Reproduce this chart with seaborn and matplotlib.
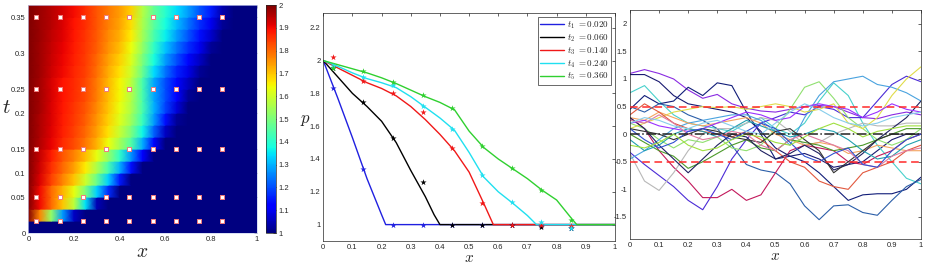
import numpy as np
import pandas as pd
import seaborn as sns
import matplotlib
matplotlib.use('Agg')
from matplotlib import pyplot as plt

# ---------------- data ----------------
# heatmap p(x, t): one row per time step, columns on x_grid
x_grid = [0.0, 0.05, 0.1, 0.15, 0.2, 0.25, 0.3, 0.35, 0.4, 0.45, 0.5,
          0.55, 0.6, 0.65, 0.7, 0.75, 0.8, 0.85, 0.9, 0.95, 1.0]
t_rows = [0.00, 0.02, 0.04, 0.06, 0.08, 0.10, 0.12, 0.14, 0.16, 0.18,
          0.20, 0.22, 0.24, 0.26, 0.28, 0.30, 0.32, 0.34, 0.36]
p_field = [
    [1.0, 1.0, 1.0, 1.0, 1.0, 1.0, 1.0, 1.0, 1.0, 1.0, 1.0, 1.0, 1.0, 1.0, 1.0, 1.0, 1.0, 1.0, 1.0, 1.0, 1.0],
    [2.0, 1.77, 1.53, 1.28, 1.06, 1.0, 1.0, 1.0, 1.0, 1.0, 1.0, 1.0, 1.0, 1.0, 1.0, 1.0, 1.0, 1.0, 1.0, 1.0, 1.0],
    [2.0, 1.9, 1.8, 1.7, 1.58, 1.35, 1.05, 1.0, 1.0, 1.0, 1.0, 1.0, 1.0, 1.0, 1.0, 1.0, 1.0, 1.0, 1.0, 1.0, 1.0],
    [2.0, 1.9, 1.8, 1.72, 1.63, 1.5, 1.33, 1.17, 1.0, 1.0, 1.0, 1.0, 1.0, 1.0, 1.0, 1.0, 1.0, 1.0, 1.0, 1.0, 1.0],
    [2.0, 1.92, 1.84, 1.77, 1.70, 1.60, 1.48, 1.33, 1.15, 1.0, 1.0, 1.0, 1.0, 1.0, 1.0, 1.0, 1.0, 1.0, 1.0, 1.0, 1.0],
    [2.0, 1.93, 1.86, 1.80, 1.74, 1.66, 1.56, 1.44, 1.30, 1.14, 1.0, 1.0, 1.0, 1.0, 1.0, 1.0, 1.0, 1.0, 1.0, 1.0, 1.0],
    [2.0, 1.94, 1.88, 1.82, 1.77, 1.71, 1.63, 1.53, 1.41, 1.27, 1.12, 1.0, 1.0, 1.0, 1.0, 1.0, 1.0, 1.0, 1.0, 1.0, 1.0],
    [2.0, 1.955, 1.91, 1.865, 1.83, 1.785, 1.72, 1.64, 1.55, 1.45, 1.30, 1.13, 1.0, 1.0, 1.0, 1.0, 1.0, 1.0, 1.0, 1.0, 1.0],
    [2.0, 1.96, 1.915, 1.875, 1.84, 1.80, 1.74, 1.67, 1.59, 1.50, 1.37, 1.22, 1.06, 1.0, 1.0, 1.0, 1.0, 1.0, 1.0, 1.0, 1.0],
    [2.0, 1.96, 1.92, 1.88, 1.85, 1.81, 1.75, 1.69, 1.62, 1.54, 1.42, 1.28, 1.14, 1.02, 1.0, 1.0, 1.0, 1.0, 1.0, 1.0, 1.0],
    [2.0, 1.965, 1.92, 1.885, 1.855, 1.82, 1.765, 1.70, 1.635, 1.56, 1.44, 1.30, 1.19, 1.08, 1.0, 1.0, 1.0, 1.0, 1.0, 1.0, 1.0],
    [2.0, 1.965, 1.925, 1.89, 1.86, 1.83, 1.775, 1.71, 1.645, 1.57, 1.44, 1.29, 1.20, 1.11, 1.02, 1.0, 1.0, 1.0, 1.0, 1.0, 1.0],
    [2.0, 1.965, 1.925, 1.89, 1.865, 1.835, 1.78, 1.715, 1.65, 1.575, 1.44, 1.29, 1.20, 1.13, 1.055, 1.0, 1.0, 1.0, 1.0, 1.0, 1.0],
    [2.0, 1.97, 1.93, 1.90, 1.87, 1.84, 1.79, 1.73, 1.67, 1.60, 1.48, 1.34, 1.24, 1.16, 1.09, 1.02, 1.0, 1.0, 1.0, 1.0, 1.0],
    [2.0, 1.97, 1.935, 1.905, 1.875, 1.845, 1.80, 1.74, 1.69, 1.62, 1.50, 1.38, 1.28, 1.20, 1.13, 1.06, 1.0, 1.0, 1.0, 1.0, 1.0],
    [2.0, 1.97, 1.94, 1.91, 1.88, 1.85, 1.81, 1.755, 1.71, 1.64, 1.53, 1.41, 1.32, 1.24, 1.17, 1.10, 1.02, 1.0, 1.0, 1.0, 1.0],
    [2.0, 1.975, 1.945, 1.915, 1.885, 1.855, 1.815, 1.765, 1.725, 1.66, 1.55, 1.44, 1.36, 1.28, 1.21, 1.14, 1.07, 1.0, 1.0, 1.0, 1.0],
    [2.0, 1.975, 1.95, 1.92, 1.89, 1.86, 1.82, 1.775, 1.735, 1.675, 1.56, 1.46, 1.38, 1.31, 1.24, 1.17, 1.10, 1.02, 1.0, 1.0, 1.0],
    [2.0, 1.975, 1.95, 1.925, 1.895, 1.86, 1.82, 1.78, 1.745, 1.69, 1.57, 1.47, 1.40, 1.34, 1.28, 1.21, 1.15, 1.04, 1.0, 1.0, 1.0],
]
t_ticks = [0.0, 0.06, 0.10, 0.14, 0.20, 0.24, 0.30, 0.36]
t_ticklabels = ['0', '0.05', '0.1', '0.15', '0.2', '0.25', '0.3', '0.35']

# observation points
probe_x = [0.035, 0.137, 0.239, 0.341, 0.443, 0.545, 0.646, 0.748, 0.849]
probe_t = [0.02, 0.06, 0.14, 0.24, 0.36]

# profiles p(x) at the probe times
snap_labels = [r'$t_1\ {=}0.020$', r'$t_2\ {=}0.060$', r'$t_3\ {=}0.140$',
               r'$t_4\ {=}0.240$', r'$t_5\ {=}0.360$']
snap_colors = ['#2020e0', '#000000', '#f01818', '#20e0f0', '#30d030']
curve_x1 = [0.0, 0.05, 0.1, 0.15, 0.2, 0.214, 1.0]
curve_p1 = [2.0, 1.77, 1.53, 1.28, 1.06, 1.0, 1.0]
curve_x2 = [0.0, 0.05, 0.1, 0.15, 0.2, 0.25, 0.3, 0.35, 0.38, 0.4, 1.0]
curve_p2 = [2.0, 1.9, 1.8, 1.72, 1.63, 1.5, 1.33, 1.17, 1.06, 1.0, 1.0]
curve_x3 = [0.0, 0.05, 0.1, 0.15, 0.2, 0.25, 0.3, 0.35, 0.4, 0.45, 0.5, 0.55, 0.583, 1.0]
curve_p3 = [2.0, 1.955, 1.91, 1.865, 1.83, 1.785, 1.72, 1.64, 1.55, 1.45, 1.32, 1.13, 1.0, 1.0]
curve_x4 = [0.0, 0.05, 0.1, 0.15, 0.2, 0.25, 0.3, 0.35, 0.4, 0.45, 0.5, 0.55, 0.6, 0.65, 0.7, 0.731, 1.0]
curve_p4 = [2.0, 1.965, 1.925, 1.89, 1.865, 1.835, 1.78, 1.715, 1.65, 1.575, 1.44, 1.29, 1.2, 1.13, 1.055, 1.0, 1.0]
curve_x5 = [0.0, 0.05, 0.1, 0.15, 0.2, 0.25, 0.3, 0.35, 0.4, 0.45, 0.5, 0.55, 0.6, 0.65, 0.7, 0.75, 0.8, 0.85, 0.869, 1.0]
curve_p5 = [2.0, 1.975, 1.95, 1.925, 1.895, 1.86, 1.82, 1.78, 1.745, 1.70, 1.57, 1.47, 1.4, 1.34, 1.28, 1.21, 1.15, 1.04, 1.0, 1.0]
obs_p1 = [1.83, 1.34, 1.0, 1.0, 1.0, 1.0, 1.0, 0.99, 0.98]
obs_p2 = [1.955, 1.745, 1.53, 1.26, 1.0, 1.0, 1.0, 0.985, 0.98]
obs_p3 = [2.02, 1.875, 1.80, 1.685, 1.47, 1.13, 1.0, 1.0, 0.99]
obs_p4 = [1.965, 1.90, 1.85, 1.725, 1.585, 1.305, 1.14, 1.015, 0.98]
obs_p5 = [1.955, 1.935, 1.868, 1.793, 1.708, 1.478, 1.346, 1.214, 1.026]

# perturbation samples on a common x grid
sample_x = [0.0, 0.05, 0.1, 0.15, 0.2, 0.25, 0.3, 0.35, 0.4, 0.45, 0.5,
            0.55, 0.6, 0.65, 0.7, 0.75, 0.8, 0.85, 0.9, 0.95, 1.0]
samples = {
    '#8a2be2': [1.10, 1.17, 1.10, 1.00, 0.80, 0.65, 0.72, 0.55, 0.47, 0.42, 0.40, 0.45, 0.50, 0.52, 0.50, 0.40, 0.30, 0.28, 0.35, 0.40, 0.35],
    '#191970': [1.08, 1.08, 0.95, 0.70, 0.55, 0.50, 0.45, 0.40, 0.30, 0.05, -0.25, -0.40, -0.35, -0.45, -0.60, -0.55, -0.50, -0.30, -0.10, 0.00, 0.00],
    '#48d1cc': [0.75, 0.88, 0.60, 0.35, 0.20, 0.15, 0.10, 0.05, 0.20, 0.30, 0.10, 0.00, 0.20, 0.60, 0.93, 0.70, 0.20, -0.20, -0.50, -0.80, -0.90],
    '#101c78': [0.45, 0.70, 0.55, 0.60, 0.85, 0.70, 0.93, 0.88, 0.40, 0.00, -0.45, -0.40, -0.50, -0.70, -0.95, -1.20, -1.10, -1.08, -1.08, -1.00, -0.78],
    '#2b5ea8': [0.50, 0.40, 0.55, 0.50, 0.35, 0.25, 0.10, -0.20, -0.55, -0.65, -0.70, -0.90, -1.30, -1.55, -1.30, -1.28, -1.42, -1.47, -1.20, -0.95, -0.82],
    '#4b2bd6': [-0.33, -0.55, -0.75, -0.95, -1.20, -1.37, -0.95, -0.45, -0.10, 0.20, 0.30, 0.40, 0.35, 0.50, 0.45, 0.30, 0.30, 0.60, 0.90, 1.05, 0.95],
    '#c2185b': [0.30, 0.10, -0.30, -0.60, -0.85, -1.15, -1.15, -1.00, -1.20, -1.10, -0.70, -0.30, -0.20, -0.25, -0.30, -0.50, -0.55, -0.40, -0.30, -0.10, 0.00],
    '#b8b8b8': [-0.35, -0.85, -1.02, -0.70, -0.30, 0.00, 0.10, 0.10, 0.20, 0.30, 0.25, 0.05, -0.20, -0.15, 0.00, 0.10, 0.20, 0.15, 0.15, 0.20, 0.20],
    '#90e070': [0.20, 0.10, -0.10, -0.25, -0.10, -0.15, -0.05, -0.25, -0.30, -0.20, 0.10, 0.45, 0.85, 0.95, 0.65, 0.30, 0.10, -0.10, -0.20, -0.10, 0.10],
    '#4aa3df': [-0.45, -0.30, -0.10, 0.10, 0.20, 0.25, 0.30, 0.35, 0.35, 0.25, 0.05, -0.20, 0.30, 0.70, 0.95, 1.00, 1.05, 0.90, 0.85, 0.75, 0.60],
    '#e0dc4a': [0.10, 0.20, 0.30, 0.40, 0.45, 0.50, 0.48, 0.50, 0.45, 0.50, 0.55, 0.50, 0.40, 0.45, 0.55, 0.20, 0.10, 0.30, 0.70, 1.00, 1.22],
    '#f4a460': [0.30, 0.25, 0.40, 0.30, 0.20, 0.15, 0.20, 0.25, 0.30, 0.20, 0.00, -0.10, -0.20, -0.15, -0.20, -0.35, -0.30, -0.20, -0.25, -0.30, -0.30],
    '#e2583e': [0.35, 0.55, 0.40, 0.20, 0.10, 0.05, 0.00, -0.05, 0.05, -0.10, -0.30, -0.50, -0.60, -0.85, -0.95, -1.00, -0.70, -0.60, -0.50, -0.30, -0.20],
    '#4c9a2a': [0.00, -0.15, -0.30, -0.40, -0.62, -0.50, -0.35, -0.20, -0.10, -0.25, -0.30, -0.10, -0.15, -0.20, -0.30, -0.25, -0.20, -0.10, 0.00, 0.10, 0.10],
    '#1f2060': [0.30, 0.10, -0.20, -0.45, -0.70, -0.45, -0.20, 0.00, -0.05, -0.30, -0.45, -0.35, -0.20, -0.35, -0.65, -0.55, -0.35, -0.10, 0.10, 0.30, 0.60],
    '#9b30ff': [0.20, 0.25, 0.15, 0.10, 0.05, 0.10, 0.20, 0.30, 0.40, 0.35, 0.25, 0.30, 0.50, 0.55, 0.50, 0.45, 0.30, 0.40, 0.55, 0.45, 0.40],
    '#20a0b0': [-0.10, -0.30, -0.20, 0.00, 0.10, 0.05, -0.05, 0.10, 0.25, 0.15, 0.05, -0.05, 0.00, 0.10, 0.05, -0.10, -0.30, -0.45, -0.40, -0.20, -0.10],
    '#333333': [0.10, 0.05, 0.00, -0.10, 0.00, 0.10, 0.05, -0.05, -0.10, -0.15, 0.05, 0.10, -0.10, -0.30, -0.70, -0.50, -0.30, -0.10, 0.00, 0.00, 0.00],
    '#e07aa0': [0.25, 0.20, 0.35, 0.20, 0.00, -0.10, -0.05, 0.05, 0.00, -0.20, -0.30, -0.10, 0.00, -0.10, -0.20, -0.30, -0.55, -0.60, -0.40, -0.30, -0.25],
    '#3050d0': [0.10, -0.10, -0.25, -0.15, 0.05, 0.10, 0.00, -0.10, 0.05, 0.20, 0.10, -0.15, -0.40, -0.50, -0.35, -0.25, -0.55, -0.60, -0.30, -0.10, 0.00],
    '#87ceeb': [0.20, 0.30, 0.25, 0.15, 0.10, 0.20, 0.25, 0.15, 0.05, 0.00, 0.20, 0.40, 0.55, 0.45, 0.30, 0.20, 0.15, 0.20, 0.30, 0.35, 0.40],
    '#a0e040': [-0.20, -0.25, -0.15, 0.00, -0.20, -0.30, -0.25, -0.10, 0.00, -0.05, -0.15, -0.20, -0.05, 0.10, 0.20, 0.10, -0.05, 0.05, 0.10, 0.15, 0.15],
}
band_levels = [-0.5, 0.5]
mean_level = 0.0

# ---------------- style ----------------
sns.set_theme(style='white')
plt.rcParams['font.family'] = ['Liberation Sans', 'DejaVu Sans']
plt.rcParams['mathtext.fontset'] = 'cm'
plt.rcParams['axes.unicode_minus'] = False
plt.rcParams['axes.edgecolor'] = '#262626'
plt.rcParams['axes.linewidth'] = 0.5

fig = plt.figure(figsize=(9.26, 2.64), dpi=100)
ax1 = fig.add_axes([0.0306, 0.1174, 0.2466, 0.8636])
cax = fig.add_axes([0.2873, 0.1174, 0.0103, 0.8636])
ax2 = fig.add_axes([0.3491, 0.0871, 0.3150, 0.8636])
ax3 = fig.add_axes([0.6803, 0.0947, 0.3143, 0.8674])


def style_ticks(ax):
    ax.tick_params(direction='in', length=2.5, width=0.5, labelsize=5.5,
                   colors='#262626', pad=2, top=True, right=True)


# ---------------- panel 1: heatmap ----------------
field = np.array(p_field)
tt = np.array(t_rows)
xx = np.array(x_grid)
band = 0.02
yy = np.column_stack([tt, tt + band * 0.999]).ravel()
X, Y = np.meshgrid(xx, yy)
C = np.repeat(field, 2, axis=0)
mesh = ax1.pcolormesh(X, Y, C, shading='gouraud', cmap='jet', vmin=1, vmax=2)

probes = pd.DataFrame({'x': np.tile(probe_x, len(probe_t)),
                       't': np.repeat(probe_t, len(probe_x))})
sns.scatterplot(data=probes, x='x', y='t', ax=ax1, marker='s', s=11,
                color='white', edgecolor='#f07a7a', linewidth=0.7, zorder=5)
ax1.set_xlim(0, 1)
ax1.set_ylim(0, 0.38)
ax1.set_xticks([0, 0.2, 0.4, 0.6, 0.8, 1.0])
ax1.set_xticklabels(['0', '0.2', '0.4', '0.6', '0.8', '1'])
ax1.set_yticks(t_ticks)
ax1.set_yticklabels(t_ticklabels)
style_ticks(ax1)
ax1.set_xlabel('$x$', fontsize=14, labelpad=1)
ax1.set_ylabel('$t$', fontsize=15, rotation=0, ha='center', va='center')
ax1.yaxis.set_label_coords(-0.098, 0.55)
for s in ax1.spines.values():
    s.set_color('#c8d0f0')

cb = fig.colorbar(mesh, cax=cax, ticks=[1, 1.1, 1.2, 1.3, 1.4, 1.5, 1.6, 1.7, 1.8, 1.9, 2])
cb.ax.set_yticklabels(['1', '1.1', '1.2', '1.3', '1.4', '1.5', '1.6', '1.7', '1.8', '1.9', '2'])
cb.ax.tick_params(direction='in', length=2, width=0.5, labelsize=5.5, colors='#262626', pad=2)
cb.outline.set_linewidth(0.5)

# ---------------- panel 2: profiles ----------------
curve_xs = [curve_x1, curve_x2, curve_x3, curve_x4, curve_x5]
curve_ps = [curve_p1, curve_p2, curve_p3, curve_p4, curve_p5]
obs_ps = [obs_p1, obs_p2, obs_p3, obs_p4, obs_p5]
for cx, cp, op, col, lab in zip(curve_xs, curve_ps, obs_ps, snap_colors, snap_labels):
    sns.lineplot(x=cx, y=cp, ax=ax2, color=col, linewidth=1.0, label=lab, sort=False)
    sns.scatterplot(x=probe_x, y=op, ax=ax2, color=col, marker='*', s=22,
                    linewidth=0, legend=False, zorder=4)
ax2.set_xlim(0, 1)
ax2.set_ylim(0.9, 2.29)
ax2.set_xticks([0, 0.1, 0.2, 0.3, 0.4, 0.5, 0.6, 0.7, 0.8, 0.9, 1.0])
ax2.set_xticklabels(['0', '0.1', '0.2', '0.3', '0.4', '0.5', '0.6', '0.7', '0.8', '0.9', '1'])
ax2.set_yticks([1, 1.2, 1.4, 1.6, 1.8, 2, 2.2])
ax2.set_yticklabels(['1', '1.2', '1.4', '1.6', '1.8', '2', '2.2'])
style_ticks(ax2)
ax2.set_xlabel('$x$', fontsize=11, labelpad=0)
ax2.set_ylabel('$p$', fontsize=12, rotation=0, ha='center', va='center')
ax2.yaxis.set_label_coords(-0.062, 0.53)
leg = ax2.legend(loc='upper right', fontsize=6.5, handlelength=2.6, handletextpad=0.3,
                 labelspacing=0.15, borderpad=0.3, frameon=True, fancybox=False,
                 borderaxespad=0.4)
leg.get_frame().set_edgecolor('#262626')
leg.get_frame().set_linewidth(0.6)

# ---------------- panel 3: samples ----------------
for col, vals in samples.items():
    sns.lineplot(x=sample_x, y=vals, ax=ax3, color=col, linewidth=0.8, legend=False)
for lev in band_levels:
    ax3.axhline(lev, color='#ff2a2a', linestyle=(0, (5, 3)), linewidth=1.1, zorder=6)
ax3.axhline(mean_level, color='#222222', linestyle='-.', linewidth=1.1, zorder=6)
ax3.set_xlim(0, 1)
ax3.set_ylim(-1.9, 2.25)
ax3.set_xticks([0, 0.1, 0.2, 0.3, 0.4, 0.5, 0.6, 0.7, 0.8, 0.9, 1.0])
ax3.set_xticklabels(['0', '0.1', '0.2', '0.3', '0.4', '0.5', '0.6', '0.7', '0.8', '0.9', '1'])
ax3.set_yticks([-1.5, -1, -0.5, 0, 0.5, 1, 1.5, 2])
ax3.set_yticklabels(['-1.5', '-1', '-0.5', '0', '0.5', '1', '1.5', '2'])
style_ticks(ax3)
ax3.set_xlabel('$x$', fontsize=11, labelpad=0)
ax3.set_ylabel('')

fig.savefig('out.png', dpi=100)
